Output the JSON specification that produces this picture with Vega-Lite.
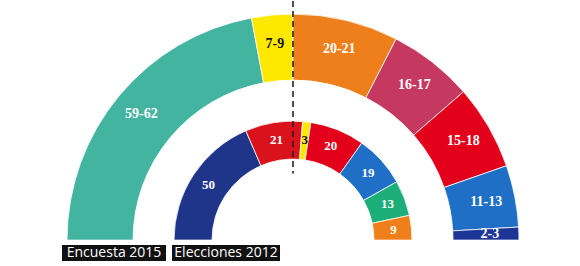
{
  "$schema": "https://vega.github.io/schema/vega-lite/v6.json",
  "width": 580,
  "height": 266,
  "padding": 0,
  "autosize": {"type": "fit", "contains": "padding"},
  "background": "white",
  "config": {"view": {"stroke": null}},
  "datasets": {
    "seats": [
      {"ring": "Encuesta 2015", "idx": 1, "party": "JxSí", "seats": 60, "label": "59-62"},
      {"ring": "Encuesta 2015", "idx": 2, "party": "CUP", "seats": 8, "label": "7-9"},
      {"ring": "Encuesta 2015", "idx": 3, "party": "C's", "seats": 20.5, "label": "20-21"},
      {"ring": "Encuesta 2015", "idx": 4, "party": "CSQP", "seats": 16.5, "label": "16-17"},
      {"ring": "Encuesta 2015", "idx": 5, "party": "PSC", "seats": 16.5, "label": "15-18"},
      {"ring": "Encuesta 2015", "idx": 6, "party": "PP", "seats": 12, "label": "11-13"},
      {"ring": "Encuesta 2015", "idx": 7, "party": "Unió", "seats": 2.5, "label": "2-3"},
      {"ring": "Elecciones 2012", "idx": 1, "party": "CiU", "seats": 50, "label": "50"},
      {"ring": "Elecciones 2012", "idx": 2, "party": "ERC", "seats": 21, "label": "21"},
      {"ring": "Elecciones 2012", "idx": 3, "party": "CUP", "seats": 3, "label": "3"},
      {"ring": "Elecciones 2012", "idx": 4, "party": "PSC", "seats": 20, "label": "20"},
      {"ring": "Elecciones 2012", "idx": 5, "party": "PP", "seats": 19, "label": "19"},
      {"ring": "Elecciones 2012", "idx": 6, "party": "ICV-EUiA", "seats": 13, "label": "13"},
      {"ring": "Elecciones 2012", "idx": 7, "party": "C's", "seats": 9, "label": "9"}
    ]
  },
  "data": {"name": "seats"},
  "layer": [
    {
      "transform": [{"filter": "datum.ring === 'Encuesta 2015'"}],
      "layer": [
        {
          "mark": {"type": "arc", "radius": 226, "radius2": 160, "stroke": "white", "strokeWidth": 0.8},
          "encoding": {
            "theta": {"field": "seats", "type": "quantitative", "stack": true, "scale": {"range": [-1.5708, 1.5708]}},
            "order": {"field": "idx", "type": "quantitative"},
            "color": {"field": "party", "type": "nominal", "legend": null,
              "scale": {"domain": ["JxSí", "CUP", "C's", "CSQP", "PSC", "PP", "Unió", "CiU", "ERC", "ICV-EUiA"],
                        "range": ["#43b4a0", "#ffe800", "#ef7f1a", "#c5385f", "#e2001a", "#1f6fc6", "#1c3596", "#1f358a", "#d9121b", "#1cae78"]}},
            "x": {"datum": 0, "type": "quantitative", "axis": null, "scale": {"domain": [-1.29646, 1.26991], "nice": false, "zero": false}},
            "y": {"datum": 0, "type": "quantitative", "axis": null, "scale": {"domain": [-0.11504, 1.06195], "nice": false, "zero": false}}
          }
        },
        {
          "mark": {"type": "text", "radius": 197, "font": "Liberation Serif", "fontWeight": "bold", "fontSize": 14, "baseline": "middle"},
          "encoding": {
            "theta": {"field": "seats", "type": "quantitative", "stack": true, "scale": {"range": [-1.5708, 1.5708]}},
            "order": {"field": "idx", "type": "quantitative"},
            "text": {"field": "label"},
            "color": {"condition": {"test": "datum.party === 'CUP'", "value": "#111111"}, "value": "white"},
            "x": {"datum": 0, "type": "quantitative", "axis": null, "scale": {"domain": [-1.29646, 1.26991], "nice": false, "zero": false}},
            "y": {"datum": 0, "type": "quantitative", "axis": null, "scale": {"domain": [-0.11504, 1.06195], "nice": false, "zero": false}}
          }
        }
      ]
    },
    {
      "transform": [{"filter": "datum.ring === 'Elecciones 2012'"}],
      "layer": [
        {
          "mark": {"type": "arc", "radius": 119, "radius2": 81, "stroke": "white", "strokeWidth": 0.8},
          "encoding": {
            "theta": {"field": "seats", "type": "quantitative", "stack": true, "scale": {"range": [-1.5708, 1.5708]}},
            "order": {"field": "idx", "type": "quantitative"},
            "color": {"field": "party", "type": "nominal", "legend": null},
            "x": {"datum": 0, "type": "quantitative", "axis": null, "scale": {"domain": [-1.29646, 1.26991], "nice": false, "zero": false}},
            "y": {"datum": 0, "type": "quantitative", "axis": null, "scale": {"domain": [-0.11504, 1.06195], "nice": false, "zero": false}}
          }
        },
        {
          "mark": {"type": "text", "radius": 101, "font": "Liberation Serif", "fontWeight": "bold", "fontSize": 13, "baseline": "middle"},
          "encoding": {
            "theta": {"field": "seats", "type": "quantitative", "stack": true, "scale": {"range": [-1.5708, 1.5708]}},
            "order": {"field": "idx", "type": "quantitative"},
            "text": {"field": "label"},
            "color": {"condition": {"test": "datum.party === 'CUP'", "value": "#111111"}, "value": "white"},
            "x": {"datum": 0, "type": "quantitative", "axis": null, "scale": {"domain": [-1.29646, 1.26991], "nice": false, "zero": false}},
            "y": {"datum": 0, "type": "quantitative", "axis": null, "scale": {"domain": [-0.11504, 1.06195], "nice": false, "zero": false}}
          }
        }
      ]
    },
    {
      "data": {"values": [{"what": "majority"}]},
      "mark": {"type": "rule", "color": "#222222", "strokeWidth": 1.6, "strokeDash": [6, 4]},
      "encoding": {
        "x": {"datum": 0, "type": "quantitative", "axis": null, "scale": {"domain": [-1.29646, 1.26991], "nice": false, "zero": false}},
        "y": {"datum": 1.062, "type": "quantitative", "axis": null, "scale": {"domain": [-0.11504, 1.06195], "nice": false, "zero": false}},
        "y2": {"datum": 0.296}
      }
    },
    {
      "data": {"values": [{"t": "Encuesta 2015"}]},
      "layer": [
        {
          "mark": {"type": "rect", "color": "#111111"},
          "encoding": {
            "x": {"datum": -1.0221, "type": "quantitative", "axis": null, "scale": {"domain": [-1.29646, 1.26991], "nice": false, "zero": false}},
            "x2": {"datum": -0.5619},
            "y": {"datum": -0.0221, "type": "quantitative", "axis": null, "scale": {"domain": [-0.11504, 1.06195], "nice": false, "zero": false}},
            "y2": {"datum": -0.0929}
          }
        },
        {
          "mark": {"type": "text", "font": "Open Sans", "fontSize": 14, "color": "white", "baseline": "middle", "align": "center"},
          "encoding": {
            "text": {"field": "t"},
            "x": {"datum": -0.792, "type": "quantitative", "axis": null, "scale": {"domain": [-1.29646, 1.26991], "nice": false, "zero": false}},
            "y": {"datum": -0.0575, "type": "quantitative", "axis": null, "scale": {"domain": [-0.11504, 1.06195], "nice": false, "zero": false}}
          }
        }
      ]
    },
    {
      "data": {"values": [{"t": "Elecciones 2012"}]},
      "layer": [
        {
          "mark": {"type": "rect", "color": "#111111"},
          "encoding": {
            "x": {"datum": -0.5354, "type": "quantitative", "axis": null, "scale": {"domain": [-1.29646, 1.26991], "nice": false, "zero": false}},
            "x2": {"datum": -0.0575},
            "y": {"datum": -0.0221, "type": "quantitative", "axis": null, "scale": {"domain": [-0.11504, 1.06195], "nice": false, "zero": false}},
            "y2": {"datum": -0.0929}
          }
        },
        {
          "mark": {"type": "text", "font": "Open Sans", "fontSize": 14, "color": "white", "baseline": "middle", "align": "center"},
          "encoding": {
            "text": {"field": "t"},
            "x": {"datum": -0.2965, "type": "quantitative", "axis": null, "scale": {"domain": [-1.29646, 1.26991], "nice": false, "zero": false}},
            "y": {"datum": -0.0575, "type": "quantitative", "axis": null, "scale": {"domain": [-0.11504, 1.06195], "nice": false, "zero": false}}
          }
        }
      ]
    }
  ],
  "resolve": {"scale": {"theta": "independent"}}
}
